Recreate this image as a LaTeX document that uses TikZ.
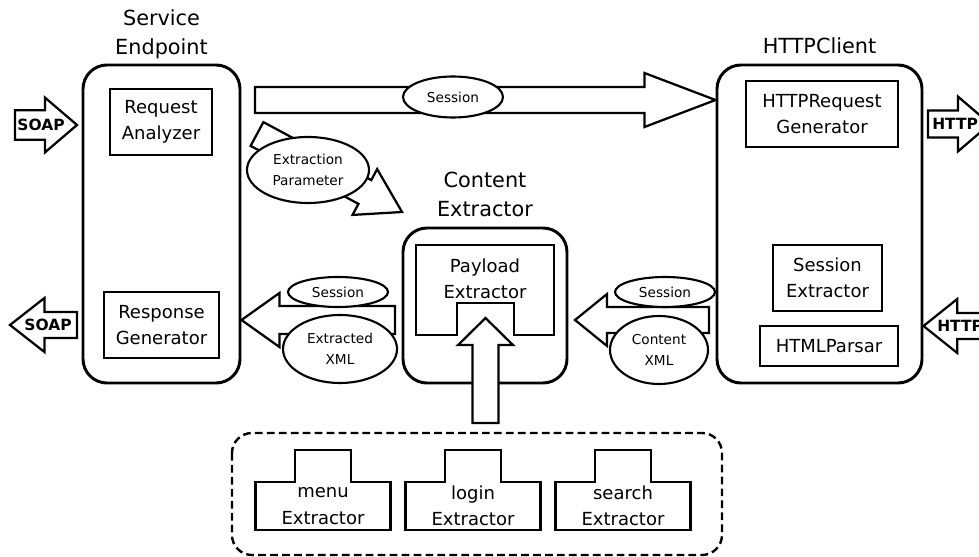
\documentclass[tikz,border=0pt]{standalone}
\usepackage{fontspec}
\setmainfont{DejaVu Sans}
\usetikzlibrary{positioning,calc,shapes.geometric}

\tikzset{
  pane/.style 2 args={draw, line width=2.1pt, rounded corners=0.6cm,
    minimum width=#1*0.025cm, minimum height=#2*0.025cm},
  unit/.style 2 args={draw, line width=1.8pt, align=center,
    minimum width=#1*0.025cm, minimum height=#2*0.025cm,
    font=\fontsize{12.8}{18.8}\selectfont},
  token/.style 2 args={ellipse, draw, fill=white, line width=1.5pt, inner sep=0pt,
    minimum width=#1*0.025cm, minimum height=#2*0.025cm, align=center,
    font=\fontsize{9.7}{14.5}\selectfont},
  heading/.style={align=center, inner sep=0pt, font=\fontsize{14.8}{20.5}\selectfont},
  plain/.style={align=center, inner sep=0pt, font=\fontsize{12.8}{18.8}\selectfont},
  fatline/.style={draw, fill=white, line width=1.6pt, line join=miter},
  proto/.style={inner sep=0pt, font=\fontsize{11}{11}\bfseries\selectfont},
}

% block arrow: tail, tip, half body width, half head width, head length
\newcommand{\fatarrow}[5]{%
  \coordinate (fa-base) at ($(#2)!#5!(#1)$);
  \path[fatline] ($(#1)!#3!90:(#2)$) -- ($(fa-base)!#3!90:(#2)$)
    -- ($(fa-base)!#4!90:(#2)$) -- (#2) -- ($(fa-base)!#4!-90:(#2)$)
    -- ($(fa-base)!#3!-90:(#2)$) -- ($(#1)!#3!-90:(#2)$) -- cycle;
}

\begin{document}
\begin{tikzpicture}[x=0.025cm, y=-0.025cm]
  \useasboundingbox (0,0) rectangle (979,557);
  \clip (0,0) rectangle (979,557);

  % the three modules
  \node[pane={157}{318}] (ep) at (161.5,224) {};
  \node[pane={205}{318}] (hc) at (819.5,224) {};
  \node[pane={164}{155}] (ce) at (485,305.5) {};
  \node[heading, above=3pt of ep] (ep-t) {Service\\Endpoint};
  \node[heading, above=7pt of hc] (hc-t) {HTTPClient};
  \node[heading, above=7pt of ce] (ce-t) {Content\\Extractor};

  \node[unit={102}{66}] (ra) at (161,122) {Request\\Analyzer};
  \node[unit={115}{66}] (rg) at (161.5,325) {Response\\Generator};
  \node[unit={152}{66}] (hrg) at (822,114) {HTTPRequest\\Generator};
  \node[unit={109}{66}] (se) at (827.5,278) {Session\\Extractor};
  \node[unit={138}{40}] (hp) at (829,346) {HTMLParsar};

  % payload extractor with its socket
  \draw[line width=1.8pt] (416,245) -- (554,245) -- (554,335) -- (514,335)
    -- (514,303) -- (457,303) -- (457,335) -- (416,335) -- cycle;
  \node[plain] (pe) at (485,279) {Payload\\Extractor};

  % plug-in extractors
  \draw[line width=1.7pt, dash pattern=on 5.5pt off 3pt, rounded corners=0.5cm]
    (232,433) rectangle (722,555);
  \foreach \cx/\kind in {323/menu,473/login,623/search}{
    \draw[line width=1.8pt] (\cx-67.5,530) -- (\cx-67.5,482) -- (\cx-28,482)
      -- (\cx-28,450) -- (\cx+28,450) -- (\cx+28,482) -- (\cx+67.5,482)
      -- (\cx+67.5,530) -- cycle;
    \node[plain] (\kind) at (\cx,506) {\kind\\Extractor};
  }

  % arrow ends
  \coordinate (soapin-a) at (15,125);
  \coordinate (soapin-b) at (77,125);
  \coordinate (soapout-a) at (77,325);
  \coordinate (soapout-b) at (10,325);
  \coordinate (httpout-a) at (928,124);
  \coordinate (httpout-b) at (990,124);
  \coordinate (httpin-a) at (1010,326);
  \coordinate (httpin-b) at (hc.east |- httpin-a);
  \coordinate (sess-a) at (255,100);
  \coordinate (sess-b) at (hc.west |- sess-a);
  \coordinate (param-a) at (257,134);
  \coordinate (param-b) at (402,212);
  \coordinate (back-a) at (395,320);
  \coordinate (back-b) at (ep.east |- back-a);
  \coordinate (cont-a) at (709,320);
  \coordinate (cont-b) at (575,320);
  \coordinate (plug-a) at (485.5,423);
  \coordinate (plug-b) at (485.5,318);

  \fatarrow{soapin-a}{soapin-b}{10.5pt}{19.5pt}{22.8pt}
  \fatarrow{soapout-a}{soapout-b}{9.2pt}{19.2pt}{24.5pt}
  \fatarrow{httpout-a}{httpout-b}{9.6pt}{19.5pt}{22.8pt}
  \fatarrow{httpin-a}{httpin-b}{9.2pt}{19.2pt}{24pt}
  \fatarrow{sess-a}{sess-b}{9.2pt}{19.2pt}{50.5pt}
  \fatarrow{param-a}{param-b}{9.6pt}{18.5pt}{30pt}
  \fatarrow{back-a}{back-b}{10pt}{19.2pt}{27pt}
  \fatarrow{cont-a}{cont-b}{9.2pt}{18.5pt}{22.8pt}
  \fatarrow{plug-a}{plug-b}{9.2pt}{19.5pt}{19.2pt}

  \node[proto] (soap1) at (41,125) {SOAP};
  \node[proto] (soap2) at (48,325) {SOAP};
  \node[proto, anchor=west] (http1) at (932,124) {HTTP};
  \node[proto, anchor=west] (http2) at (937,326) {HTTP};

  % data carried along the arrows
  \node[token={100}{41}] (sess1) at (453,97) {Session};
  \node[token={122}{66}] (param) at (308,170) {Extraction\\Parameter};
  \node[token={100}{30}] (sess2) at (338,292) {Session};
  \node[token={114}{68}] (exml) at (340,349) {Extracted\\XML};
  \node[token={100}{30}] (sess3) at (665,292) {Session};
  \node[token={98}{68}] (cxml) at (659,350) {Content\\XML};
\end{tikzpicture}
\end{document}
